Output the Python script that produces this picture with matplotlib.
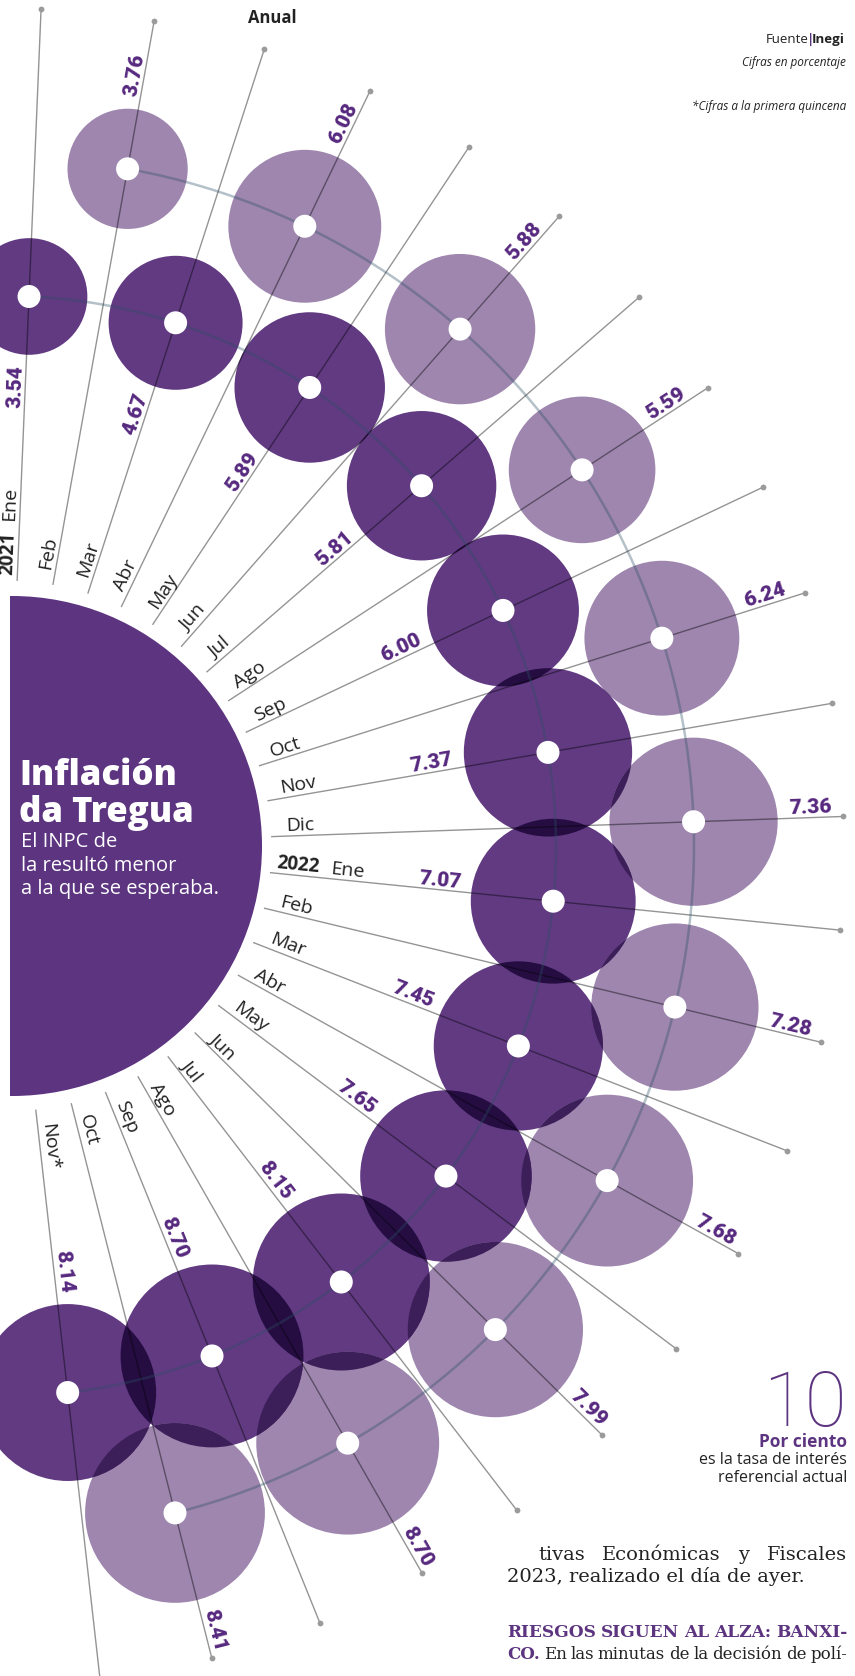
import numpy as np
import matplotlib
matplotlib.use("Agg")
import matplotlib.pyplot as plt
from matplotlib.patches import Circle, Rectangle
from matplotlib.colors import to_rgb

# inflacion anual (%), Ene 2021 - Nov 2022 (Nov: primera quincena)
meses = ["Ene", "Feb", "Mar", "Abr", "May", "Jun", "Jul", "Ago", "Sep", "Oct", "Nov", "Dic",
         "Ene", "Feb", "Mar", "Abr", "May", "Jun", "Jul", "Ago", "Sep", "Oct", "Nov*"]
anios = ["2021"] + [""] * 11 + ["2022"] + [""] * 10
inflacion = [3.54, 3.76, 4.67, 6.08, 5.89, 5.88, 5.81, 5.59, 6.00, 6.24, 7.37, 7.36,
             7.07, 7.28, 7.45, 7.68, 7.65, 7.99, 8.15, 8.70, 8.70, 8.41, 8.14]
tasa_ref = "10"

C_HALF = "#5c3480"
C_DARK = "#613a82"
C_LIGHT = "#9e86ae"
C_NUM = "#56287f"
C_TXT = "#222222"

W, H = 855, 1676
fig = plt.figure(figsize=(W / 100, H / 100), dpi=100)
ax = fig.add_axes([0, 0, 1, 1])
ax.set_xlim(0, W)
ax.set_ylim(H, 0)
ax.axis("off")
ren = fig.canvas.get_renderer()

CX, CY = 6, 846
R_IN, R_OUT = 550, 688
R_S0, R_S1 = 266, 838

def polar(r, a):
    t = np.radians(a)
    return CX + r * np.cos(t), CY - r * np.sin(t)

def ancho(t):
    return t.get_window_extent(ren).width

n = len(inflacion)
ang = 87.6 - 7.78 * np.arange(n)
interior = np.arange(n) % 2 == 0
ring = np.where(interior, R_IN, R_OUT)
rad = 31 * np.sqrt(inflacion)
col = [C_DARK if d else C_LIGHT for d in interior]

# medio circulo
half = Circle((12, CY), 250, fc=C_HALF, ec="none", zorder=1)
ax.add_patch(half)
half.set_clip_path(Rectangle((10, 0), W, H, transform=ax.transData))

# circulos + traslapes (efecto multiplicar)
centros = [polar(ring[i], ang[i]) for i in range(n)]
for i in range(n):
    ax.add_patch(Circle(centros[i], rad[i], fc=col[i], ec="none", zorder=2))
for i in range(n):
    for j in range(i + 1, n):
        d = np.hypot(centros[i][0] - centros[j][0], centros[i][1] - centros[j][1])
        if d < rad[i] + rad[j]:
            ov = Circle(centros[j], rad[j], ec="none", zorder=3,
                        fc=np.array(to_rgb(col[i])) * np.array(to_rgb(col[j])))
            ax.add_patch(ov)
            ov.set_clip_path(Circle(centros[i], rad[i], transform=ax.transData))

# rayos
for i in range(n):
    x0, y0 = polar(R_S0, ang[i])
    x1, y1 = polar(R_S1, ang[i])
    ax.plot([x0, x1], [y0, y1], color="black", alpha=0.42, lw=1.0, zorder=4)
    ax.plot(x1, y1, "o", ms=4.2, color="#9b9b9b", mec="none", zorder=4)

# arcos
for r, a0, a1 in [(R_IN, ang[0], ang[-1]), (R_OUT, ang[1], ang[-2])]:
    tt = np.linspace(a0, a1, 300)
    xa, ya = polar(r, tt)
    ax.plot(xa, ya, color=(0.16, 0.31, 0.39), alpha=0.35, lw=1.8, zorder=4)

for i in range(n):
    ax.add_patch(Circle(centros[i], 11.5, fc="white", ec="none", zorder=5))

# valores
for i in range(n):
    t = np.radians(ang[i])
    if interior[i]:
        r, ha = R_IN - rad[i] - 11, "right"
    else:
        r, ha = R_OUT + rad[i] + 12, "left"
    x, y = polar(r, ang[i])
    x -= 4 * np.sin(t)
    y -= 4 * np.cos(t)
    ax.text(x, y, f"{inflacion[i]:.2f}", rotation=ang[i], rotation_mode="anchor",
            ha=ha, va="baseline", family="Roboto", weight="black", fontsize=15,
            color=C_NUM, zorder=6)

# meses
for i in range(n):
    t = np.radians(ang[i])
    r = 280
    if anios[i]:
        r = 271
        tmp = ax.text(0, 0, anios[i], family="Open Sans", weight="bold", fontsize=13.5)
        wy = ancho(tmp)
        tmp.remove()
        x, y = polar(r, ang[i])
        ax.text(x - 5 * np.sin(t), y - 5 * np.cos(t), anios[i], rotation=ang[i],
                rotation_mode="anchor", ha="left", va="baseline", family="Open Sans",
                weight="bold", fontsize=13.5, color=C_TXT, zorder=6)
        r += wy + 11
    x, y = polar(r, ang[i])
    ax.text(x - 5 * np.sin(t), y - 5 * np.cos(t), meses[i], rotation=ang[i],
            rotation_mode="anchor", ha="left", va="baseline", family="Open Sans",
            fontsize=14, color=C_TXT, zorder=6)

# titulo dentro del medio circulo
ax.text(19, 785, "Inflación", family="Open Sans", weight=800, fontsize=25,
        color="white", va="baseline", zorder=6)
ax.text(19, 822, "da Tregua", family="Open Sans", weight=800, fontsize=25,
        color="white", va="baseline", zorder=6)
for k, s in enumerate(["El INPC de", "la resultó menor", "a la que se esperaba."]):
    ax.text(21, 847 + 23.5 * k, s, family="Open Sans", fontsize=14.5, color="white",
            va="baseline", zorder=6)

# encabezados
ax.text(272, 23, "Anual", family="Open Sans", weight="bold", fontsize=12, color=C_TXT,
        ha="center", va="baseline")
x = 845
for s, w, c in [("Inegi", "bold", C_TXT), ("|", "bold", C_HALF), ("Fuente", "normal", C_TXT)]:
    t = ax.text(x, 43, s, family="Open Sans", weight=w, fontsize=9.5, color=c,
                ha="right", va="baseline")
    x -= ancho(t) - 2
ax.text(846, 66, "Cifras en porcentaje", family="Open Sans", style="italic", fontsize=8.5,
        color=C_TXT, ha="right", va="baseline")
ax.text(846, 110, "*Cifras a la primera quincena", family="Open Sans", style="italic",
        fontsize=8.5, color=C_TXT, ha="right", va="baseline")

# tasa de referencia
ax.text(847, 1426, tasa_ref, family="Roboto", weight="light", fontsize=55, color=C_HALF,
        ha="right", va="baseline")
ax.text(847, 1447, "Por ciento", family="Open Sans", weight="bold", fontsize=12.5,
        color=C_HALF, ha="right", va="baseline")
ax.text(847, 1464, "es la tasa de interés", family="Open Sans", fontsize=11.5,
        color=C_TXT, ha="right", va="baseline")
ax.text(847, 1482, "referencial actual", family="Open Sans", fontsize=11.5,
        color=C_TXT, ha="right", va="baseline")

# texto de la nota
SERIF = "DejaVu Serif"

def linea(partes, x0, x1, y, size):
    while True:
        ts = [ax.text(x0, y, s, va="baseline", ha="left", family=SERIF,
                      fontsize=size, **p) for s, p in partes]
        ws = [ancho(t) for t in ts]
        gap = (x1 - x0 - sum(ws)) / (len(ts) - 1)
        if gap >= 0.2 * size * 100 / 72 or size < 8:
            break
        for t in ts:
            t.remove()
        size -= 0.25
    xx = x0
    for t, w in zip(ts, ws):
        t.set_x(xx)
        xx += w + gap

reg = dict(color=C_TXT)
neg = dict(color=C_HALF, weight="bold")
linea([(w, reg) for w in "tivas Económicas y Fiscales".split()], 538, 847, 1560, 14)
ax.text(507, 1582, "2023, realizado el día de ayer.", family=SERIF,
        fontsize=14, color=C_TXT, va="baseline")
linea([(w, neg) for w in "RIESGOS SIGUEN AL ALZA: BANXI-".split()], 507, 847, 1637, 14)
linea([("CO.", neg)] + [(w, reg) for w in "En las minutas de la decisión de polí-".split()],
      507, 847, 1659, 14)

fig.savefig("out.png", dpi=100)
